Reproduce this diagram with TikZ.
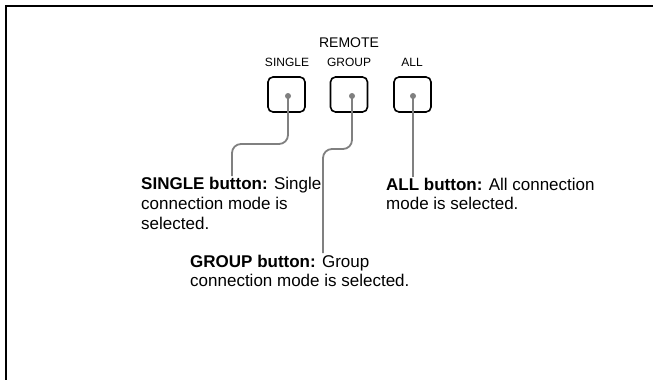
\documentclass[tikz,border=0pt]{standalone}
\usepackage{fontspec}
\setmainfont{Liberation Sans}
\begin{document}
\begin{tikzpicture}[x=1pt,y=-1pt,
  btn/.style={draw=black,line width=1.6pt,rounded corners=5pt,minimum width=37pt,minimum height=35pt,inner sep=0pt},
  dot/.style={circle,fill=black!50,inner sep=0pt,minimum size=6pt},
  lead/.style={draw=black!50,line width=1.8pt,rounded corners=9pt},
  lbl/.style={font=\fontsize{12}{14}\selectfont,inner sep=0pt,anchor=base},
  desc/.style={font=\fontsize{17}{19.8}\selectfont,align=left,inner sep=0pt,anchor=base west}
]
\useasboundingbox (0,0) rectangle (653,380);
\draw[line width=2pt] (653,5.5) -- (5.5,5.5) -- (5.5,380);

\node[lbl,font=\fontsize{14}{16}\selectfont] (remote) at (349,47) {REMOTE};
\node[lbl] (lsingle) at (287,66) {SINGLE};
\node[lbl] (lgroup) at (349,66) {GROUP};
\node[lbl] (lall) at (412,66) {ALL};

\node[btn] (bsingle) at (286.5,94.5) {};
\node[btn] (bgroup) at (349,94.5) {};
\node[btn] (ball) at (412.5,94.5) {};

\node[dot] (dsingle) at (288,96) {};
\node[dot] (dgroup) at (352,96) {};
\node[dot] (dall) at (413,96) {};

% base anchor = baseline of last line
\node[desc] (tsingle) at (141,229.5) {\textbf{SINGLE button:} Single\\connection mode is\\selected.};
\node[desc] (tall) at (386,209.8) {\textbf{ALL button:} All connection\\mode is selected.};
\node[desc] (tgroup) at (190,286.8) {\textbf{GROUP button:} Group\\connection mode is selected.};

\coordinate (esingle) at (232,176);
\coordinate (egroup) at (323,253);
\coordinate (eall) at (413,177);

\draw[lead] (dsingle.center) -- (288,144) -- (232,144) -- (esingle);
\draw[lead] (dgroup.center) -- (352,149) -- (323,149) -- (egroup);
\draw[lead] (dall.center) -- (eall);
\end{tikzpicture}
\end{document}
